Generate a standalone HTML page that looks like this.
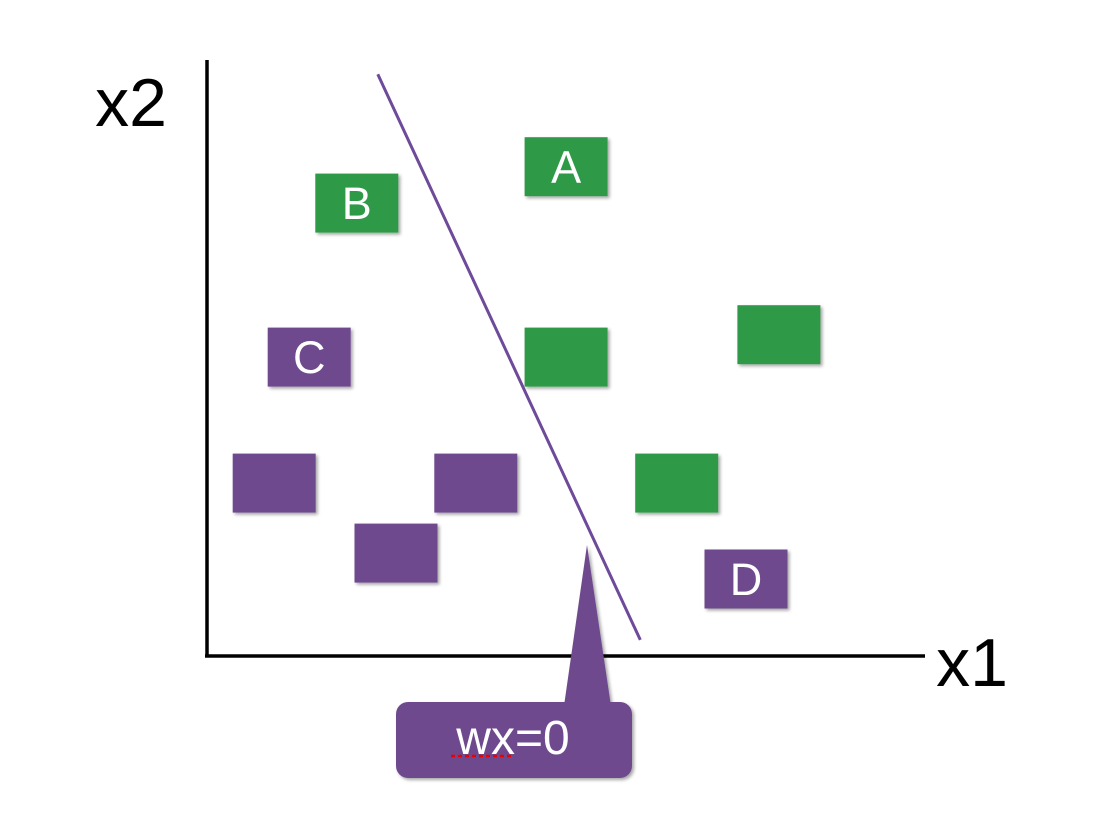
<!DOCTYPE html>
<html><head><meta charset="utf-8"><style>
body{margin:0;background:#fff;}
svg{display:block;font-family:"Liberation Sans",sans-serif;}
</style></head><body>
<svg id="chart" width="1100" height="824">
<defs><filter id="sh" x="-10%" y="-10%" width="130%" height="130%"><feDropShadow dx="2" dy="2" stdDeviation="1.5" flood-opacity="0.35"/></filter></defs>
<line x1="207" y1="60" x2="207" y2="657" stroke="#000" stroke-width="3.5"/>
<line x1="205" y1="656" x2="925" y2="656" stroke="#000" stroke-width="3.5"/>
<text x="131" y="126" font-size="68" text-anchor="middle">x2</text>
<text x="972" y="686" font-size="68" text-anchor="middle">x1</text>
<g id="pts"></g>
<g id="lineg"></g>
<g filter="url(#sh)">
<path d="M564,706 L587,545 L611,706 Z" fill="#6e4a8e"/>
<rect x="396" y="702" width="236" height="76" rx="12" fill="#6e4a8e"/>
</g>
<text x="513" y="754" font-size="48" fill="#fff" text-anchor="middle">wx=0</text>
<line x1="451" y1="756" x2="512" y2="756" stroke="#e00" stroke-width="2.5" stroke-dasharray="4,3"/>
</svg>
<script>
const xs=[5.13,2.14,1.46,5.13,8.17,0.96,3.84,6.71,2.70,7.70];
const ys=[6.99,6.47,4.27,4.27,4.59,2.47,2.47,2.47,1.47,1.10];
const classes=["g","g","p","g","g","p","p","g","p","p"];
const labels=["A","B","C","","","","","","","D"];
const lineX=[2.44,6.19];
const lineY=[8.31,0.23];
const sx=v=>207+v*70, sy=v=>656-v*70;
const ns="http://www.w3.org/2000/svg";
const g=document.getElementById('pts');
xs.forEach((x,i)=>{
 const cx=sx(x), cy=sy(ys[i]);
 const r=document.createElementNS(ns,'rect');
 r.setAttribute('x',cx-41.5);r.setAttribute('y',cy-29.5);
 r.setAttribute('width',83);r.setAttribute('height',59);
 r.setAttribute('fill',classes[i]=="g"?"#2f9a46":"#6e4a8e");
 r.setAttribute('filter','url(#sh)');
 
 
 g.appendChild(r);
 if(labels[i]){
  const t=document.createElementNS(ns,'text');
  t.setAttribute('x',cx);t.setAttribute('y',cy+16);
  t.setAttribute('font-size','45');t.setAttribute('fill','#fff');t.setAttribute('text-anchor','middle');
  t.textContent=labels[i];
  
  
  g.appendChild(t);
 }
});
const l=document.createElementNS(ns,'line');
l.setAttribute('x1',sx(lineX[0]));l.setAttribute('y1',sy(lineY[0]));
l.setAttribute('x2',sx(lineX[1]));l.setAttribute('y2',sy(lineY[1]));
l.setAttribute('stroke','#6e4a9a');l.setAttribute('stroke-width','3');


document.getElementById('lineg').appendChild(l);
</script>
</body></html>
